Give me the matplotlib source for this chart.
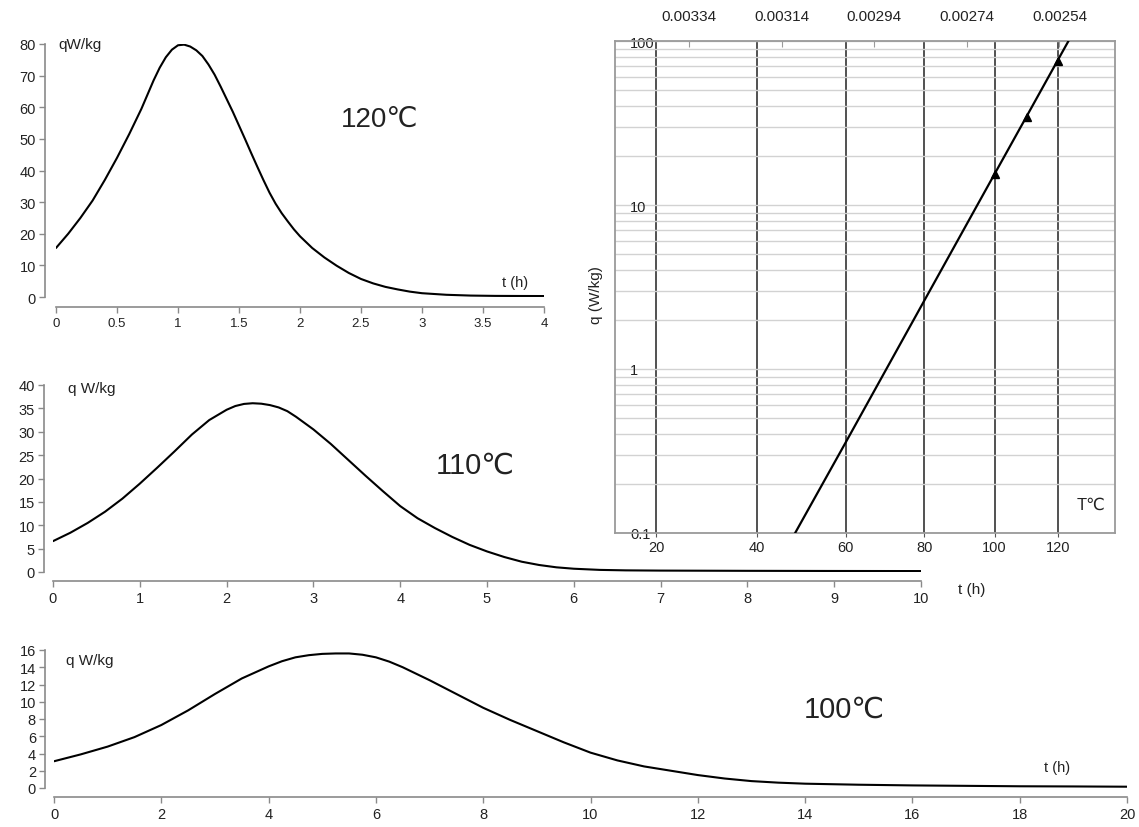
import numpy as np
import matplotlib
matplotlib.use('Agg')
import matplotlib.pyplot as plt
from matplotlib.ticker import FixedLocator, NullLocator, LogLocator, NullFormatter

plt.rcParams['font.family'] = ['Liberation Sans', 'DejaVu Sans']

# ---------------- data ----------------
t120 = [0, 0.1, 0.2, 0.3, 0.4, 0.5, 0.6, 0.7, 0.75, 0.8, 0.85, 0.9, 0.95, 1.0, 1.05,
        1.1, 1.15, 1.2, 1.25, 1.3, 1.35, 1.4, 1.45, 1.5, 1.55, 1.6, 1.65, 1.7, 1.75,
        1.8, 1.85, 1.9, 1.95, 2.0, 2.1, 2.2, 2.3, 2.4, 2.5, 2.6, 2.7, 2.8, 2.9, 3.0,
        3.2, 3.4, 3.6, 3.8, 4.0]
q120 = [15.5, 20.0, 25.0, 30.5, 37.0, 44.0, 51.5, 59.5, 64.0, 68.5, 72.5, 75.8, 78.2,
        79.6, 79.8, 79.2, 78.0, 76.2, 73.5, 70.3, 66.5, 62.5, 58.5, 54.2, 49.9, 45.5,
        41.2, 37.0, 33.0, 29.5, 26.5, 23.9, 21.4, 19.2, 15.5, 12.5, 9.9, 7.6, 5.7, 4.3,
        3.2, 2.4, 1.7, 1.2, 0.7, 0.45, 0.35, 0.32, 0.3]

t110 = [0, 0.2, 0.4, 0.6, 0.8, 1.0, 1.2, 1.4, 1.6, 1.8, 2.0, 2.1, 2.2, 2.3, 2.4, 2.5,
        2.6, 2.7, 2.8, 3.0, 3.2, 3.4, 3.6, 3.8, 4.0, 4.2, 4.4, 4.6, 4.8, 5.0, 5.2, 5.4,
        5.6, 5.8, 6.0, 6.3, 6.6, 7, 8, 9, 10]
q110 = [6.6, 8.4, 10.5, 12.9, 15.7, 18.9, 22.3, 25.8, 29.4, 32.5, 34.7, 35.5, 35.95,
        36.1, 36.0, 35.7, 35.2, 34.4, 33.2, 30.5, 27.4, 24.0, 20.6, 17.3, 14.1, 11.5,
        9.4, 7.5, 5.8, 4.4, 3.2, 2.2, 1.5, 1.0, 0.7, 0.45, 0.35, 0.3, 0.25, 0.22, 0.2]

t100 = [0, 0.5, 1, 1.5, 2, 2.5, 3, 3.5, 4, 4.25, 4.5, 4.75, 5, 5.25, 5.5, 5.75, 6,
        6.25, 6.5, 7, 7.5, 8, 8.5, 9, 9.5, 10, 10.5, 11, 11.5, 12, 12.5, 13, 13.5, 14,
        15, 16, 17, 18, 19, 20]
q100 = [3.1, 3.9, 4.8, 5.9, 7.3, 9.0, 10.9, 12.7, 14.1, 14.7, 15.15, 15.4, 15.55, 15.6,
        15.6, 15.45, 15.15, 14.65, 14.0, 12.5, 10.9, 9.3, 7.9, 6.6, 5.3, 4.1, 3.2, 2.5,
        2.0, 1.5, 1.1, 0.8, 0.62, 0.5, 0.38, 0.3, 0.25, 0.2, 0.18, 0.15]

# Arrhenius plot
T_line = [48.3, 60, 80, 100, 110, 120, 123.6]
q_line = [0.1, 0.357, 2.62, 15.5, 35.1, 76.4, 100]
T_pts = [100, 110, 120]
q_pts = [15.5, 34.3, 75.9]
T_ticks = [20, 40, 60, 80, 100, 120]
invT_ticks = [0.00334, 0.00314, 0.00294, 0.00274, 0.00254]
invT_labels = ['0.00334', '0.00314', '0.00294', '0.00274', '0.00254']

W, H = 1139, 828
fig = plt.figure(figsize=(W / 100, H / 100), dpi=100)

SP = '#8a8a8a'
TXT = '#222222'


def px_axes(l, r, top, bot):
    return fig.add_axes([l / W, 1 - bot / H, (r - l) / W, (bot - top) / H])


def style_lin(ax, xticks, yticks, xlim, ylim, xlab_size=10.5, yoff=9, xoff=9):
    ax.set_facecolor('none')
    for s in ['top', 'right']:
        ax.spines[s].set_visible(False)
    ax.spines['left'].set_position(('outward', yoff * 0.72))
    ax.spines['bottom'].set_position(('outward', xoff * 0.72))
    for s in ['left', 'bottom']:
        ax.spines[s].set_color(SP)
        ax.spines[s].set_linewidth(1.2)
    ax.set_xlim(*xlim)
    ax.set_ylim(*ylim)
    ax.set_xticks(xticks)
    ax.set_yticks(yticks)
    ax.tick_params(axis='both', colors=SP, labelcolor=TXT, length=4.5, width=1)
    ax.tick_params(axis='x', labelsize=xlab_size, pad=3)
    ax.tick_params(axis='y', labelsize=10.5, pad=2)


# ---- top-left: 120 C ----
ax1 = px_axes(56, 544, 45, 298)
ax1.plot(t120, q120, color='black', lw=1.5, solid_capstyle='round')
style_lin(ax1, [0, 0.5, 1, 1.5, 2, 2.5, 3, 3.5, 4], list(range(0, 81, 10)),
          (0, 4), (0, 80), xlab_size=9.5, yoff=11, xoff=10)
ax1.set_xticklabels(['0', '0.5', '1', '1.5', '2', '2.5', '3', '3.5', '4'])
ax1.text(0.02, 80, 'qW/kg', fontsize=11, ha='left', va='center', color=TXT)
ax1.text(2.65, 56.3, '120℃', fontsize=20, ha='center', va='center', color=TXT)
ax1.text(3.76, 4.7, 't (h)', fontsize=10.5, ha='center', va='center', color=TXT)

# ---- middle: 110 C ----
ax2 = px_axes(53, 921, 386, 573)
ax2.plot(t110, q110, color='black', lw=1.5, solid_capstyle='round')
style_lin(ax2, list(range(0, 11)), list(range(0, 41, 5)), (0, 10), (0, 40))
ax2.text(0.17, 39.3, 'q W/kg', fontsize=11, ha='left', va='center', color=TXT)
ax2.text(4.86, 22.9, '110℃', fontsize=21, ha='center', va='center', color=TXT)
ax2.text(10.58, -3.6, 't (h)', fontsize=11, ha='center', va='center', color=TXT,
         clip_on=False)

# ---- bottom: 100 C ----
ax3 = px_axes(54, 1127, 651, 789)
ax3.plot(t100, q100, color='black', lw=1.5, solid_capstyle='round')
style_lin(ax3, list(range(0, 21, 2)), list(range(0, 17, 2)), (0, 20), (0, 16))
ax3.text(0.22, 14.8, 'q W/kg', fontsize=11, ha='left', va='center', color=TXT)
ax3.text(14.74, 9.2, '100℃', fontsize=21, ha='center', va='center', color=TXT)
ax3.text(18.7, 2.4, 't (h)', fontsize=10.5, ha='center', va='center', color=TXT)

# ---- top-right: Arrhenius (log q vs 1/T) ----
ax4 = px_axes(615, 1115, 42, 534)
ax4.set_facecolor('white')


def fwd(T):
    T = np.asarray(T, dtype=float)
    with np.errstate(divide='ignore', invalid='ignore'):
        return -1.0 / (T + 273.15)


def inv(y):
    y = np.asarray(y, dtype=float)
    with np.errstate(divide='ignore', invalid='ignore'):
        return -1.0 / y - 273.15


XLIM = (1 / 0.0035 - 273.15, 1 / 0.00242 - 273.15)
ax4.set_xscale('function', functions=(fwd, inv))
ax4.set_yscale('log')
ax4.set_xlim(*XLIM)
ax4.set_ylim(0.1, 100)

ax4.plot(T_line, q_line, color='black', lw=1.6, zorder=4)
ax4.plot(T_pts, q_pts, linestyle='none', marker='^', color='black', markersize=6, zorder=5)

ax4.xaxis.set_major_locator(FixedLocator(T_ticks))
ax4.xaxis.set_minor_locator(NullLocator())
ax4.set_xticklabels([str(v) for v in T_ticks])
ax4.yaxis.set_major_locator(FixedLocator([0.1, 1, 10, 100]))
ax4.set_yticklabels(['0.1', '1', '10', '100'])
ax4.yaxis.set_minor_locator(LogLocator(base=10, subs=np.arange(2, 10)))
ax4.yaxis.set_minor_formatter(NullFormatter())

ax4.grid(True, axis='x', which='major', color='#222222', lw=1.1, zorder=1)
ax4.grid(True, axis='y', which='both', color='#d2d2d2', lw=1.0, zorder=0)
ax4.set_axisbelow(True)

for s in ax4.spines.values():
    s.set_color('#9a9a9a')
    s.set_linewidth(1.3)

ax4.tick_params(axis='x', which='major', length=3, color='#555555', labelcolor=TXT,
                labelsize=10.5, pad=2)
ax4.tick_params(axis='y', which='both', length=0, labelcolor=TXT, labelsize=10.5,
                pad=-11)
for lab in ax4.get_yticklabels():
    lab.set_horizontalalignment('left')

# top axis in 1/T (K^-1)
ax5 = ax4.twiny()
ax5.set_xscale('function', functions=(fwd, inv))
ax5.set_xlim(*XLIM)
ax5.xaxis.set_major_locator(FixedLocator([1.0 / r - 273.15 for r in invT_ticks]))
ax5.xaxis.set_minor_locator(NullLocator())
ax5.set_xticklabels(invT_labels)
ax5.tick_params(axis='x', direction='in', length=4, color='#9a9a9a', labelcolor=TXT,
                labelsize=11, pad=13)
for s in ax5.spines.values():
    s.set_visible(False)

ax4.set_ylabel('q (W/kg)', fontsize=11, color=TXT)
ax4.yaxis.set_label_coords(-0.024, 0.486)
ax4.text(0.952, 0.059, 'T℃', transform=ax4.transAxes, fontsize=12, ha='center',
         va='center', color=TXT)

fig.savefig('out.png', dpi=100, facecolor='white')
